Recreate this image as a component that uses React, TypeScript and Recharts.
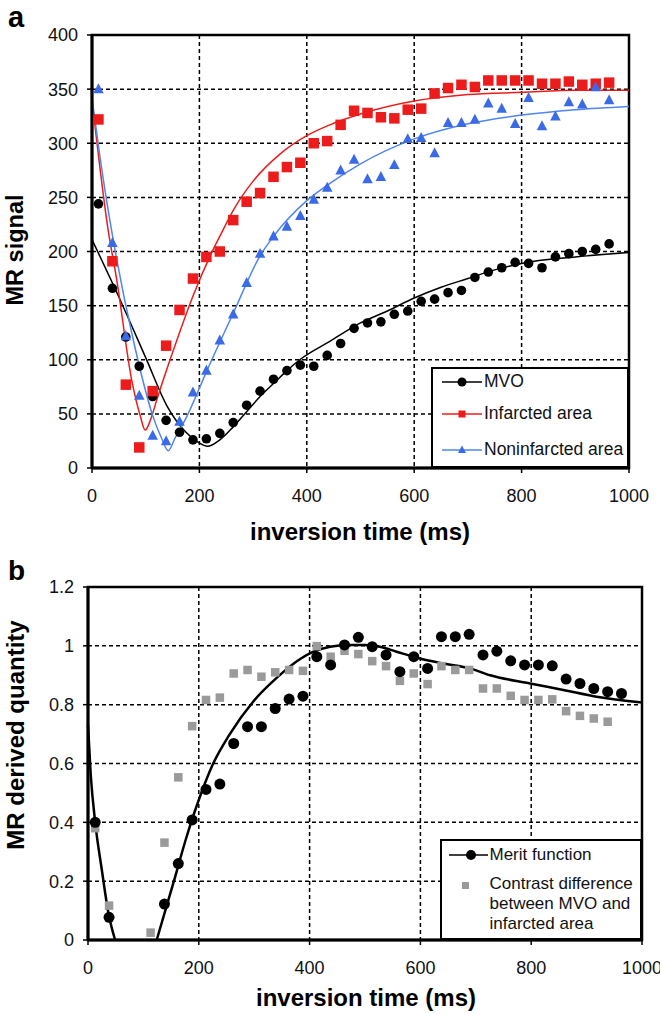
import {
  CartesianGrid,
  ComposedChart,
  Legend,
  Line,
  ReferenceArea,
  Scatter,
  XAxis,
  YAxis,
} from "recharts";

const FONT = '"Liberation Sans", Arial, Helvetica, sans-serif';
const RED = "#ec1c1c";
const BLUE = "#3b6ae6";
const BLUE_LINE = "#4f85f0";
const GRAY = "#9a9a9a";

// panel a: sampled inversion times (ms) and MR signal per region
const TI_A = [
  12, 38, 63, 88, 113, 138, 163, 188, 213, 238, 263, 288, 313, 338, 363, 388, 413, 438, 463,
  488, 513, 538, 563, 588, 613, 638, 663, 688, 713, 738, 763, 788, 813, 838, 863, 888, 913,
  938, 963,
];
const MVO = [
  244, 166, 121, 94, 66, 44, 33, 26, 27, 32, 42, 58, 71, 82, 90, 95, 94, 104, 115, 129, 134,
  135, 142, 145, 154, 156, 162, 164, 176, 181, 185, 190, 189, 185, 195, 198, 200, 202, 207,
];
const INFARCTED = [
  322, 191, 77, 19, 71, 113, 146, 175, 195, 200, 229, 246, 254, 269, 278, 282, 300, 302, 317,
  330, 328, 324, 323, 331, 332, 346, 351, 354, 352, 358, 358, 358, 358, 355, 355, 357, 354,
  355, 356,
];
const NONINFARCTED = [
  350, 208, 122, 67, 30, 25, 43, 70, 90, 118, 142, 171, 198, 214, 223, 233, 248, 259, 275,
  285, 267, 269, 280, 304, 305, 291, 319, 319, 322, 337, 332, 318, 342, 316, 325, 338, 336,
  352, 340,
];

// fitted curves as drawn in panel a
const MVO_FIT_T = [0, 50, 100, 140, 175, 200, 215, 238, 263, 288, 313, 338, 363, 387, 443, 500, 550, 600, 650, 700, 750, 800, 900, 1000];
const MVO_FIT = [211, 158, 102, 57, 33, 23, 20, 26, 38, 52, 66, 78, 90, 100, 117, 134, 145, 157, 167, 175, 183, 189, 195, 199];
const INF_FIT_T = [0, 30, 46, 74, 90, 99, 110, 120, 158, 189, 220, 241, 263, 300, 350, 400, 443, 500, 600, 700, 800, 900, 1000];
const INF_FIT = [340, 220, 174, 81, 48, 35, 46, 62, 118, 160, 196, 217, 238, 265, 290, 307, 317, 327, 339, 345, 347, 349, 349];
const NON_FIT_T = [0, 20, 43, 77, 114, 130, 142, 155, 176, 214, 263, 313, 338, 400, 443, 500, 600, 700, 800, 900, 1000];
const NON_FIT = [342, 270, 201, 118, 47, 27, 16, 28, 47, 90, 143, 196, 214, 247, 263, 281, 304, 318, 326, 331, 334];

// panel b
const TI_MERIT = [
  13, 38, 138, 163, 188, 213, 238, 263, 288, 313, 338, 363, 388, 413, 438, 463, 488, 513, 538,
  563, 588, 613, 638, 663, 688, 713, 738, 763, 788, 813, 838, 863, 888, 913, 938, 963,
];
const MERIT = [
  0.4, 0.077, 0.122, 0.26, 0.408, 0.512, 0.53, 0.668, 0.725, 0.725, 0.787, 0.819, 0.829, 0.963,
  0.935, 1.003, 1.029, 0.997, 0.969, 0.912, 0.963, 0.923, 1.031, 1.031, 1.039, 0.969, 0.982,
  0.949, 0.935, 0.935, 0.932, 0.887, 0.872, 0.855, 0.844, 0.838,
];
const TI_CONTRAST = [
  13, 38, 113, 138, 163, 188, 213, 238, 263, 288, 313, 338, 363, 388, 413, 438, 463, 488, 513,
  538, 563, 588, 613, 638, 663, 688, 713, 738, 763, 788, 813, 838, 863, 888, 913, 938,
];
const CONTRAST = [
  0.38, 0.117, 0.025, 0.331, 0.553, 0.727, 0.816, 0.824, 0.906, 0.918, 0.895, 0.91, 0.918,
  0.915, 0.999, 0.963, 0.983, 0.972, 0.948, 0.931, 0.881, 0.906, 0.87, 0.931, 0.918, 0.918,
  0.855, 0.855, 0.83, 0.816, 0.816, 0.818, 0.778, 0.762, 0.753, 0.742,
];
// merit fit; below zero it leaves the plot, so the gap is null
const MERIT_FIT_T = [0, 5, 13, 25, 37, 49, 85, 124, 154, 178, 202, 226, 256, 298, 340, 383, 407, 437, 470, 500, 527, 557, 599, 641, 690, 726, 798, 858, 918, 1000];
const MERIT_FIT = [0.73, 0.56, 0.4, 0.238, 0.09, 0, null, 0, 0.193, 0.351, 0.487, 0.6, 0.7, 0.81, 0.89, 0.955, 0.98, 0.997, 1.003, 1.003, 0.997, 0.98, 0.957, 0.94, 0.923, 0.9, 0.872, 0.85, 0.827, 0.807];

const X_TICKS = [0, 200, 400, 600, 800, 1000];
const Y_TICKS_A = [0, 50, 100, 150, 200, 250, 300, 350, 400];
const Y_TICKS_B = [0, 0.2, 0.4, 0.6, 0.8, 1, 1.2];

const zip = (xs: number[], ys: (number | null)[]) => xs.map((x, i) => ({ x, y: ys[i] }));

const dot = (r: number, fill: string) => (p: any) => <circle cx={p.cx} cy={p.cy} r={r} fill={fill} />;
const square = (s: number, fill: string) => (p: any) => (
  <rect x={p.cx - s / 2} y={p.cy - s / 2} width={s} height={s} fill={fill} />
);
const triangle = (w: number, fill: string) => (p: any) => (
  <path d={`M${p.cx},${p.cy - w * 0.55}L${p.cx + w / 2},${p.cy + w * 0.4}L${p.cx - w / 2},${p.cy + w * 0.4}Z`} fill={fill} />
);

const tickStyle = { fill: "#111", fontSize: 18, fontFamily: FONT };
const axisLine = { stroke: "#000", strokeWidth: 3 };
const tickLine = { stroke: "#000", strokeWidth: 1.5 };

function LegendA() {
  const rows = [
    { label: "MVO", color: "#000", mark: <circle cx={21} cy={10} r={4.5} fill="#000" />, top: 5 },
    { label: "Infarcted area", color: RED, mark: <rect x={17.5} y={6.5} width={7} height={7} fill={RED} />, top: 37 },
    { label: "Noninfarcted area", color: BLUE_LINE, mark: <path d="M21,5.5L25,13L17,13Z" fill={BLUE} />, top: 73 },
  ];
  return (
    <div style={{ boxSizing: "border-box", width: 198, height: 101, border: "2.5px solid #000", background: "#fff", position: "relative", fontFamily: FONT, fontSize: 17.5, color: "#111" }}>
      {rows.map((r) => (
        <div key={r.label} style={{ position: "absolute", left: 8, top: r.top - 2.5, height: 20, display: "flex", alignItems: "center", whiteSpace: "nowrap" }}>
          <svg width={42} height={20}>
            <line x1={1} y1={10} x2={41} y2={10} stroke={r.color} strokeWidth={1.5} />
            {r.mark}
          </svg>
          <span style={{ marginLeft: 1 }}>{r.label}</span>
        </div>
      ))}
    </div>
  );
}

function LegendB() {
  return (
    <div style={{ boxSizing: "border-box", width: 202, height: 101, border: "2.5px solid #000", background: "#fff", position: "relative", fontFamily: FONT, fontSize: 17, color: "#111" }}>
      <div style={{ position: "absolute", left: 5.5, top: 3.5, height: 20, display: "flex", alignItems: "center", whiteSpace: "nowrap" }}>
        <svg width={42} height={20}>
          <line x1={1} y1={10} x2={40} y2={10} stroke="#000" strokeWidth={1.5} />
          <circle cx={23} cy={10} r={5} fill="#000" />
        </svg>
        <span>Merit function</span>
      </div>
      <svg width={10} height={10} style={{ position: "absolute", left: 19, top: 40 }}>
        <rect x={1} y={1} width={7} height={7} fill={GRAY} />
      </svg>
      <div style={{ position: "absolute", left: 47.5, top: 33, lineHeight: "20px", whiteSpace: "nowrap" }}>
        Contrast difference
        <br />
        between MVO and
        <br />
        infarcted area
      </div>
    </div>
  );
}

function PanelA() {
  return (
    <ComposedChart width={660} height={510} margin={{ top: 35, right: 31, bottom: 0, left: 0 }}>
      <CartesianGrid stroke="#000" strokeDasharray="4 3" strokeWidth={1.5} />
      <XAxis type="number" dataKey="x" domain={[0, 1000]} ticks={X_TICKS} height={42} tick={tickStyle} tickSize={5} tickMargin={16} axisLine={axisLine} tickLine={tickLine} />
      <YAxis type="number" domain={[0, 400]} ticks={Y_TICKS_A} width={92} tick={tickStyle} tickSize={5} tickMargin={9} axisLine={axisLine} tickLine={tickLine} />
      <ReferenceArea x1={0} x2={1000} y1={0} y2={400} fill="none" fillOpacity={0} stroke="#000" strokeWidth={2.5} />
      <Line data={zip(MVO_FIT_T, MVO_FIT)} dataKey="y" type="monotone" stroke="#000" strokeWidth={1.5} dot={false} isAnimationActive={false} />
      <Line data={zip(INF_FIT_T, INF_FIT)} dataKey="y" type="monotone" stroke={RED} strokeWidth={1.5} dot={false} isAnimationActive={false} />
      <Line data={zip(NON_FIT_T, NON_FIT)} dataKey="y" type="monotone" stroke={BLUE_LINE} strokeWidth={1.5} dot={false} isAnimationActive={false} />
      <Scatter data={zip(TI_A, MVO)} dataKey="y" shape={dot(4.8, "#000")} isAnimationActive={false} />
      <Scatter data={zip(TI_A, INFARCTED)} dataKey="y" shape={square(10.5, RED)} isAnimationActive={false} />
      <Scatter data={zip(TI_A, NONINFARCTED)} dataKey="y" shape={triangle(10.5, BLUE)} isAnimationActive={false} />
      <Legend layout="vertical" align="center" verticalAlign="middle" content={LegendA} wrapperStyle={{ left: 431, top: 367, width: 198, height: 101 }} />
    </ComposedChart>
  );
}

function PanelB() {
  return (
    <ComposedChart width={660} height={440} margin={{ top: 47, right: 18, bottom: 0, left: 0 }}>
      <CartesianGrid stroke="#000" strokeDasharray="4 3" strokeWidth={1.5} />
      <XAxis type="number" dataKey="x" domain={[0, 1000]} ticks={X_TICKS} height={40} tick={tickStyle} tickSize={5} tickMargin={16} axisLine={axisLine} tickLine={tickLine} />
      <YAxis type="number" domain={[0, 1.2]} ticks={Y_TICKS_B} width={88} tick={tickStyle} tickSize={5} tickMargin={9} axisLine={axisLine} tickLine={tickLine} />
      <ReferenceArea x1={0} x2={1000} y1={0} y2={1.2} fill="none" fillOpacity={0} stroke="#000" strokeWidth={2.5} />
      <Line data={zip(MERIT_FIT_T, MERIT_FIT)} dataKey="y" type="monotone" stroke="#000" strokeWidth={2.5} dot={false} connectNulls={false} isAnimationActive={false} />
      <Scatter data={zip(TI_CONTRAST, CONTRAST)} dataKey="y" shape={square(8.5, GRAY)} isAnimationActive={false} />
      <Scatter data={zip(TI_MERIT, MERIT)} dataKey="y" shape={dot(5.5, "#000")} isAnimationActive={false} />
      <Legend layout="vertical" align="center" verticalAlign="middle" content={LegendB} wrapperStyle={{ left: 440, top: 299, width: 202, height: 101 }} />
    </ComposedChart>
  );
}

export default function App() {
  const title = { fontFamily: FONT, fontWeight: 700, fill: "#000" } as const;
  return (
    <div style={{ position: "absolute", left: 0, top: 0, width: 660, height: 1014, background: "#fff" }}>
      <div style={{ position: "absolute", left: 0, top: 0 }}>
        <PanelA />
      </div>
      <div style={{ position: "absolute", left: 0, top: 540 }}>
        <PanelB />
      </div>
      <svg width={660} height={1014} style={{ position: "absolute", left: 0, top: 0, pointerEvents: "none" }}>
        <text x={8} y={27} fontSize={29} {...title}>a</text>
        <text x={8} y={580} fontSize={28} {...title}>b</text>
        <text x={360} y={540} fontSize={24} textAnchor="middle" {...title}>inversion time (ms)</text>
        <text x={366} y={1006} fontSize={24} textAnchor="middle" {...title}>inversion time (ms)</text>
        <text x={23} y={250} fontSize={23.5} textAnchor="middle" transform="rotate(-90 23 250)" {...title}>MR signal</text>
        <text x={24} y={735} fontSize={24} textAnchor="middle" transform="rotate(-90 24 735)" {...title}>MR derived quantity</text>
      </svg>
    </div>
  );
}
